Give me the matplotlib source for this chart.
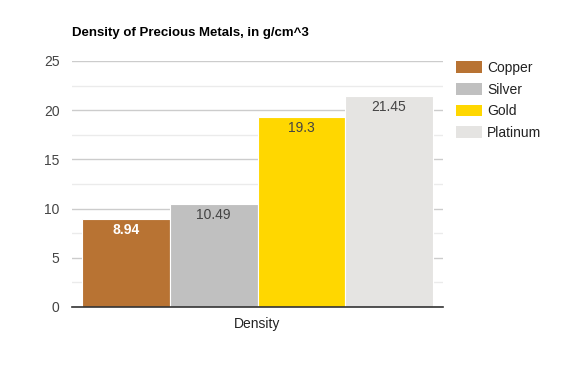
import matplotlib
matplotlib.use('Agg')
import matplotlib.pyplot as plt
from matplotlib.patches import Patch

plt.rcParams['font.family'] = ['Liberation Sans', 'DejaVu Sans']

# 数据
metals = ['Copper', 'Silver', 'Gold', 'Platinum']
density = [8.94, 10.49, 19.3, 21.45]
colors = ['#b87333', '#c0c0c0', '#ffd700', '#e5e4e2']
label_colors = ['white', '#444444', '#444444', '#444444']
category = 'Density'
y_ticks = [0, 5, 10, 15, 20, 25]

fig = plt.figure(figsize=(5.86, 3.68), dpi=100)
ax = fig.add_axes([72 / 586, 1 - 307 / 368, (443 - 72) / 586, (307 - 61) / 368])

x = list(range(len(metals)))
bars = ax.bar(x, density, width=1.0, color=colors, edgecolor='white', linewidth=0.8, zorder=3)

# 柱内数值标签
for i, (b, v) in enumerate(zip(bars, density)):
    ax.annotate(f'{v:g}', (b.get_x() + b.get_width() / 2, v), xytext=(0, -3),
                textcoords='offset points', ha='center', va='top', fontsize=10,
                color=label_colors[i], fontweight='bold' if i == 0 else 'normal', zorder=4)

pad = 10 / 87.75
ax.set_xlim(-0.5 - pad, 3.5 + pad)
ax.set_ylim(0, 25)
ax.set_yticks(y_ticks)
ax.set_yticks([2.5, 7.5, 12.5, 17.5, 22.5], minor=True)
ax.grid(True, axis='y', which='major', color='#cccccc', linewidth=1, zorder=0)
ax.grid(True, axis='y', which='minor', color='#ebebeb', linewidth=1, zorder=0)
ax.tick_params(axis='y', which='both', length=0, labelsize=10, labelcolor='#444444', pad=9)
ax.set_xticks([1.5])
ax.set_xticklabels([category])
ax.tick_params(axis='x', length=0, labelsize=10, labelcolor='#222222', pad=7)
for s in ['top', 'right', 'left']:
    ax.spines[s].set_visible(False)
ax.spines['bottom'].set_color('#333333')
ax.spines['bottom'].set_linewidth(1.2)
ax.spines['bottom'].set_zorder(5)

fig.text(72 / 586, 1 - 33 / 368, 'Density of Precious Metals, in g/cm^3', fontsize=9.5,
         fontweight='bold', color='#000000', va='center', ha='left')

handles = [Patch(facecolor=c, edgecolor='none') for c in colors]
fig.legend(handles, metals, loc='upper left', bbox_to_anchor=(456 / 586, 1 - 61 / 368),
           frameon=False, fontsize=10, handlelength=1.87, handleheight=0.9,
           labelspacing=0.55, handletextpad=0.35, borderpad=0, borderaxespad=0,
           labelcolor='#222222')

plt.savefig('out.png', dpi=100)
